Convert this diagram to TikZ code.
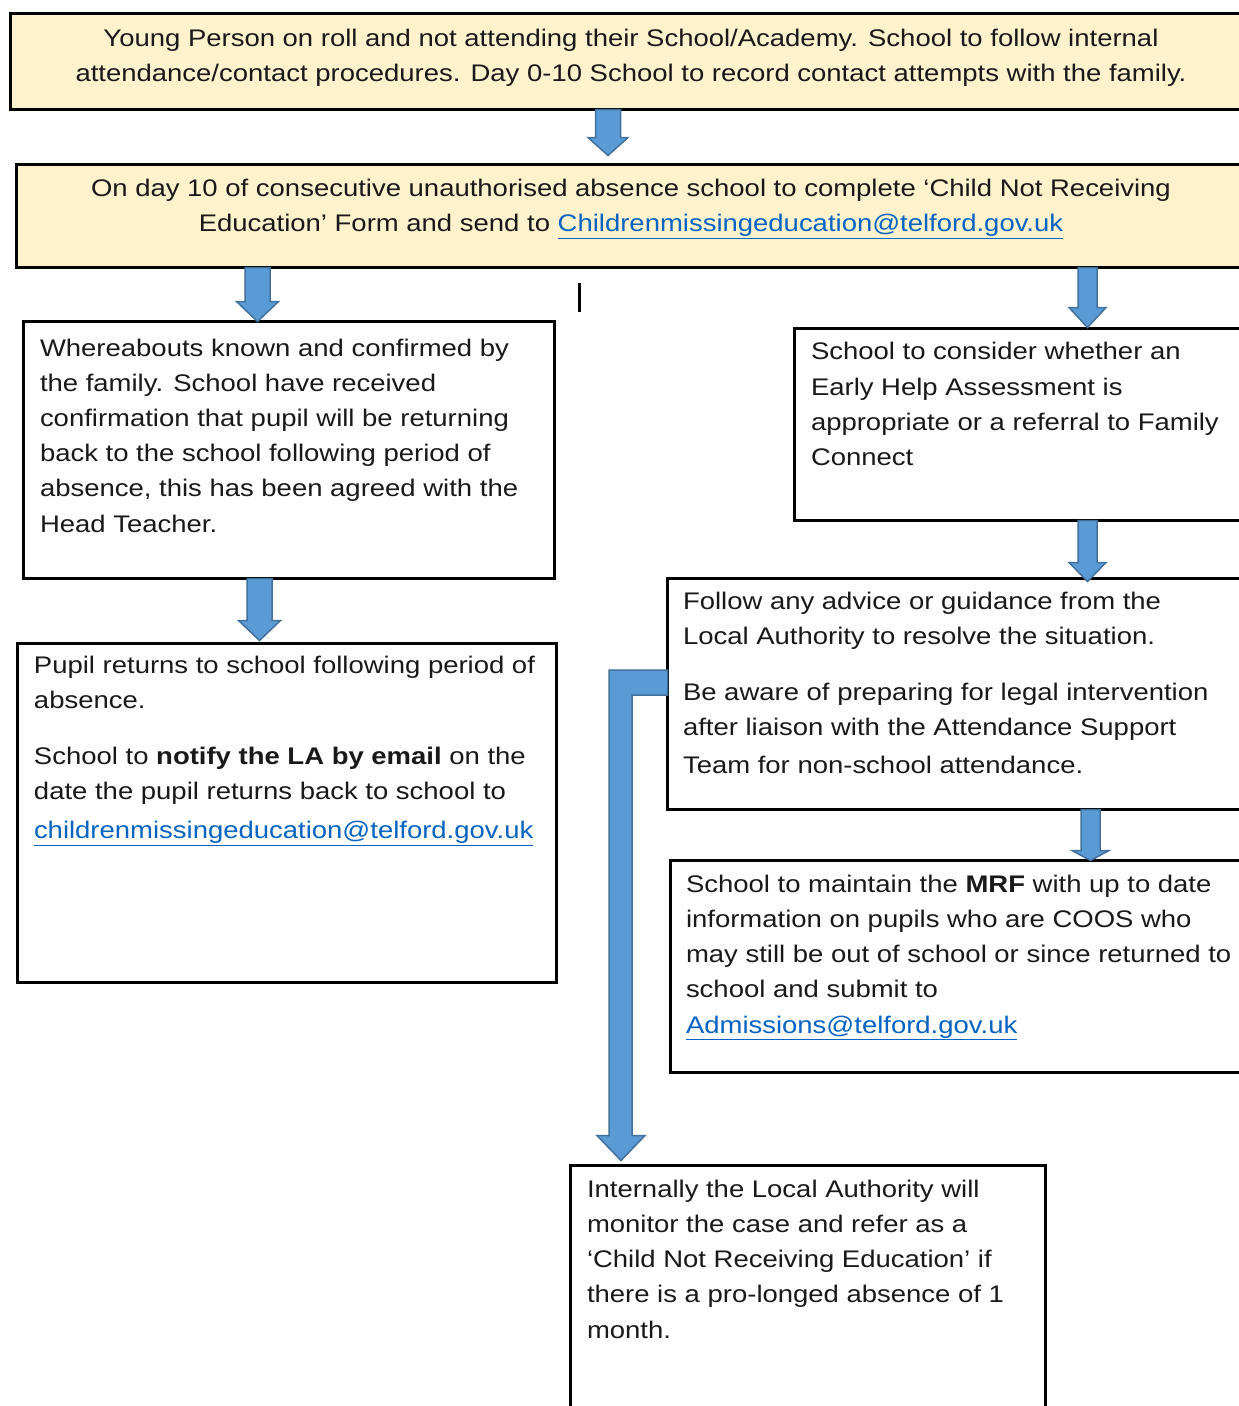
\documentclass[tikz,border=0pt]{standalone}
\usepackage{fontspec}
\setmainfont{Liberation Sans}[FakeStretch=1.145]
\usetikzlibrary{calc}
\definecolor{cream}{RGB}{255,242,204}
\definecolor{arrowfill}{RGB}{91,155,213}
\definecolor{arrowedge}{RGB}{65,113,156}
\definecolor{linkblue}{RGB}{5,99,193}
\definecolor{txtcol}{RGB}{25,25,25}
\newcommand\lnk[1]{\textcolor{linkblue}{\underline{#1}}}
% #1 x centre, #2 source, #3 target, #4 half shaft, #5 half head, #6 head length, #7 tip offset upward
\newcommand\varrow[7]{%
  \path[blockarrow] let \p1=(#2.south), \p2=(#3.north),
      \n1={\y2+(#7)*1pt}, \n2={\y2+(#7)*1pt+#6pt} in
    ({#1pt-#4pt},\y1) -- ({#1pt+#4pt},\y1) -- ({#1pt+#4pt},\n2)
    -- ({#1pt+#5pt},\n2) -- (#1pt,\n1)
    -- ({#1pt-#5pt},\n2) -- ({#1pt-#4pt},\n2) -- cycle;}
\begin{document}
\begin{tikzpicture}[x=1pt,y=-1pt,
  box/.style={draw=black,line width=3pt,fill=white,anchor=north west,inner sep=0pt,outer sep=0pt},
  creambox/.style={box,fill=cream},
  txt/.style={inner sep=0pt,outer sep=0pt,align=left,anchor=base west,text=txtcol,
    font=\fontsize{24}{35.2}\selectfont},
  ctxt/.style={txt,align=center,anchor=base},
  blockarrow/.style={fill=arrowfill,draw=arrowedge,line width=1.5pt,line join=miter}]
\useasboundingbox (0,0) rectangle (1239,1406);
\clip (0,0) rectangle (1239,1406);
\fill[white] (0,0) rectangle (1239,1406);

\node[creambox,minimum width=1240,minimum height=96] (b1) at (10.5,13.5) {};
\node[creambox,minimum width=1234,minimum height=103] (b2) at (16,164.5) {};
\node[box,minimum width=531,minimum height=257] (b3) at (23.5,321.5) {};
\node[box,minimum width=456,minimum height=192] (b4) at (794,328.5) {};
\node[box,minimum width=583,minimum height=231] (b5) at (667.5,578.5) {};
\node[box,minimum width=538.5,minimum height=338.5] (b6) at (17.5,643.5) {};
\node[box,minimum width=580,minimum height=211.5] (b7) at (670,860.5) {};
\node[box,minimum width=474.5,minimum height=260] (b8) at (570.5,1165.5) {};

% text nodes are anchored at the baseline of their last line
\node[ctxt] (t1) at (631,81.5) {Young Person on roll and not attending their School/Academy. School to follow internal\\attendance/contact procedures. Day 0-10 School to record contact attempts with the family.};
\node[ctxt] (t2) at (631,231.5) {On day 10 of consecutive unauthorised absence school to complete ‘Child Not Receiving\\Education’ Form and send to \lnk{Childrenmissingeducation@telford.gov.uk}};
\node[txt] (t3) at (40,532) {Whereabouts known and confirmed by\\the family. School have received\\confirmation that pupil will be returning\\back to the school following period of\\absence, this has been agreed with the\\Head Teacher.};
\node[txt] (t4) at (811,465.5) {School to consider whether an\\Early Help Assessment is\\appropriate or a referral to Family\\Connect};
\node[txt] (t5) at (683,773.5) {Follow any advice or guidance from the\\Local Authority to resolve the situation.\\[20pt]Be aware of preparing for legal intervention\\after liaison with the Attendance Support\\[3pt]Team for non-school attendance.};
\node[txt] (t6) at (34,838.5) {Pupil returns to school following period of\\absence.\\[20pt]School to \textbf{notify the LA by email} on the\\date the pupil returns back to school to\\[4pt]\lnk{childrenmissingeducation@telford.gov.uk}};
\node[txt] (t7) at (686,1033) {School to maintain the \textbf{MRF} with up to date\\information on pupils who are COOS who\\may still be out of school or since returned to\\school and submit to\\\lnk{Admissions@telford.gov.uk}};
\node[txt] (t8) at (587,1338) {Internally the Local Authority will\\monitor the case and refer as a\\‘Child Not Receiving Education’ if\\there is a pro-longed absence of 1\\month.};

\coordinate (m1) at (579,283);
\coordinate (m2) at (579,312);
\draw[line width=3pt] (m1) -- (m2);

\varrow{608}{b1}{b2}{12.5}{20}{18}{9}
\varrow{257.5}{b2}{b3}{12.5}{21}{20}{0}
\varrow{1087.5}{b2}{b4}{9.5}{18.5}{20}{1}
\varrow{1087.5}{b4}{b5}{9.5}{18.5}{19}{-3}
\varrow{259.5}{b3}{b6}{12.5}{21}{20}{3}
\varrow{1090.5}{b5}{b7}{9.5}{18.5}{10}{0}
\path[blockarrow] let \p1=(b5.west), \p2=(b8.north) in
  (\x1,-670pt) -- (609pt,-670pt) -- (609pt,{\y2+30pt}) -- (597pt,{\y2+30pt})
  -- (621pt,{\y2+5pt}) -- (645pt,{\y2+30pt}) -- (632pt,{\y2+30pt})
  -- (632pt,-695pt) -- (\x1,-695pt) -- cycle;
\end{tikzpicture}
\end{document}
